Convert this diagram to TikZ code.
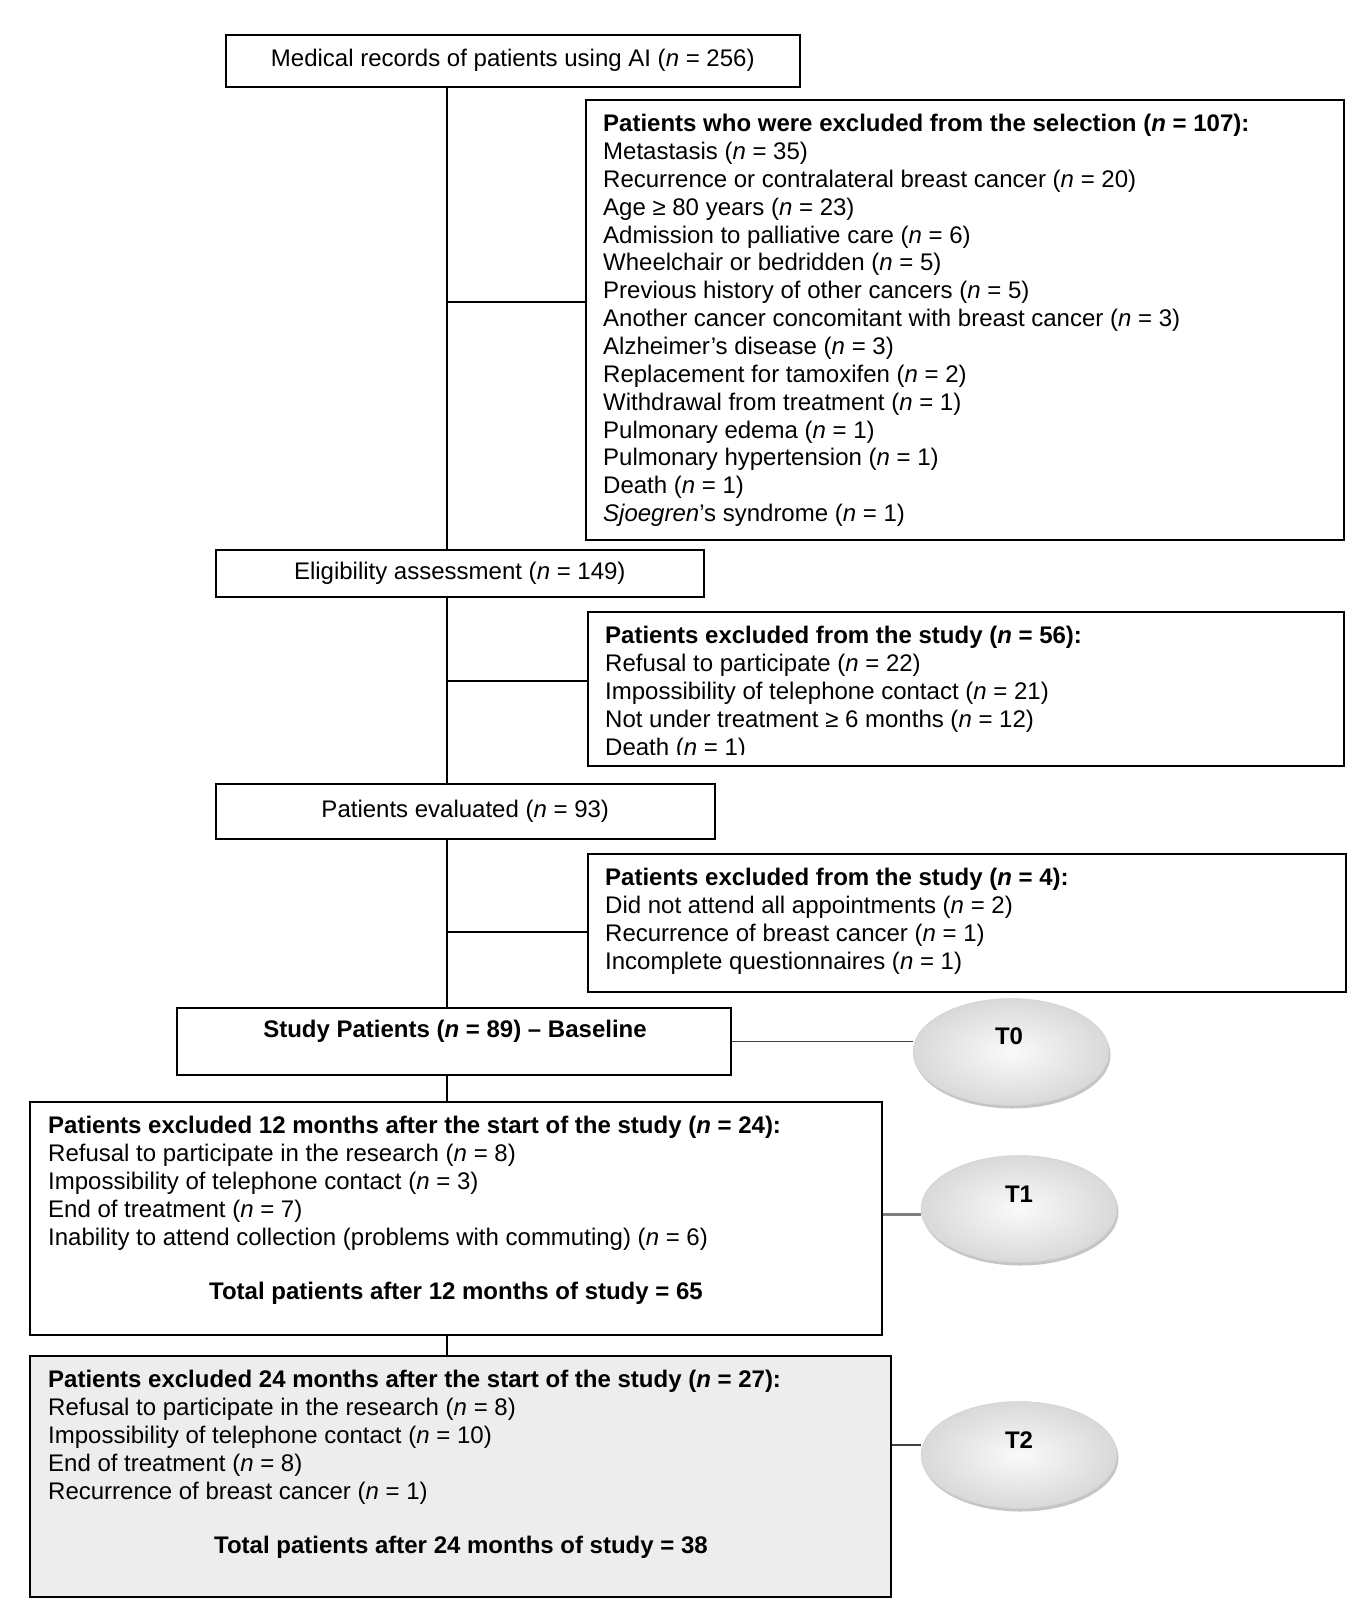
\documentclass[tikz,border=0pt]{standalone}
\usepackage{fontspec}
\setmainfont{Liberation Sans}
\usetikzlibrary{shadows,calc,shapes.geometric}
\newcommand\ncount[1]{(\textit{n} = #1)}
\tikzset{
  box/.style={draw=black, line width=1.5pt, inner sep=0pt, anchor=north west, fill=white},
  txt/.style={inner sep=0pt, anchor=north west, align=left, font=\fontsize{24}{27.86}\selectfont},
  ctxt/.style={inner sep=0pt, font=\fontsize{24}{27.86}\selectfont},
  spine/.style={line width=1.5pt, black},
  tell/.style={ellipse, draw=black!18, line width=0.5pt, inner sep=0pt,
    minimum width=196pt, minimum height=107pt,
    shading=radial, inner color=black!2, outer color=black!15,
    drop shadow={shadow xshift=1.5pt, shadow yshift=-3pt, fill=black!45, opacity=0.5}},
  tlab/.style={inner sep=0pt, font=\fontsize{24}{27.86}\selectfont\bfseries},
  t0conn/.style={line width=1.5pt, black!75},
  tconn/.style={line width=3pt, black!50},
}
\begin{document}
\begin{tikzpicture}[x=1pt, y=-1pt]
\useasboundingbox (0,0) rectangle (1364,1618);
\fill[white] (0,0) rectangle (1364,1618);

% main boxes
\node[box, minimum width=574pt, minimum height=52pt, font=\fontsize{24}{27.86}\selectfont] (b1) at (225,34) {Medical records of patients using AI \ncount{256}};
\node[box, minimum width=758pt, minimum height=440pt] (ex1) at (585,99) {};
\node[box, minimum width=488pt, minimum height=47pt, font=\fontsize{24}{27.86}\selectfont] (elig) at (215,549) {Eligibility assessment \ncount{149}};
\node[box, minimum width=756pt, minimum height=154pt] (ex2) at (587,611) {};
\node[box, minimum width=499pt, minimum height=55pt, font=\fontsize{24}{27.86}\selectfont] (eval) at (215,783) {Patients evaluated \ncount{93}};
\node[box, minimum width=758pt, minimum height=138pt] (ex3) at (587,853) {};
\node[box, minimum width=554pt, minimum height=67pt] (study) at (176,1007) {};
\node[box, minimum width=852pt, minimum height=233pt] (m12) at (29,1101) {};
\node[box, minimum width=861pt, minimum height=241pt, fill=black!7] (m24) at (29,1355) {};

% texts
\node[txt] (ex1t) at (603,114) {\textbf{Patients who were excluded from the selection (\textit{n} = 107):}\\
Metastasis \ncount{35}\\
Recurrence or contralateral breast cancer \ncount{20}\\
Age ≥ 80 years \ncount{23}\\
Admission to palliative care \ncount{6}\\
Wheelchair or bedridden \ncount{5}\\
Previous history of other cancers \ncount{5}\\
Another cancer concomitant with breast cancer \ncount{3}\\
Alzheimer's disease \ncount{3}\\
Replacement for tamoxifen \ncount{2}\\
Withdrawal from treatment \ncount{1}\\
Pulmonary edema \ncount{1}\\
Pulmonary hypertension \ncount{1}\\
Death \ncount{1}\\
\textit{Sjoegren}'s syndrome \ncount{1}};

\begin{scope}
\clip (587,611) rectangle (1343,754);
\node[txt] (ex2t) at (605,626) {\textbf{Patients excluded from the study (\textit{n} = 56):}\\
Refusal to participate \ncount{22}\\
Impossibility of telephone contact \ncount{21}\\
Not under treatment ≥ 6 months \ncount{12}\\
Death \ncount{1}};
\end{scope}

\node[txt] (ex3t) at (605,868) {\textbf{Patients excluded from the study (\textit{n} = 4):}\\
Did not attend all appointments \ncount{2}\\
Recurrence of breast cancer \ncount{1}\\
Incomplete questionnaires \ncount{1}};

\node[ctxt, font=\fontsize{24}{27.86}\selectfont\bfseries] (studyt) at (455,1031) {Study Patients (\textit{n} = 89) -- Baseline};

\node[txt] (m12t) at (48,1116) {\textbf{Patients excluded 12 months after the start of the study (\textit{n} = 24):}\\
Refusal to participate in the research \ncount{8}\\
Impossibility of telephone contact \ncount{3}\\
End of treatment \ncount{7}\\
Inability to attend collection (problems with commuting) \ncount{6}};
\node[ctxt, font=\fontsize{24}{27.86}\selectfont\bfseries] (m12tot) at (456,1293) {Total patients after 12 months of study = 65};

\node[txt] (m24t) at (48,1370) {\textbf{Patients excluded 24 months after the start of the study (\textit{n} = 27):}\\
Refusal to participate in the research \ncount{8}\\
Impossibility of telephone contact \ncount{10}\\
End of treatment \ncount{8}\\
Recurrence of breast cancer \ncount{1}};
\node[ctxt, font=\fontsize{24}{27.86}\selectfont\bfseries] (m24tot) at (461,1547) {Total patients after 24 months of study = 38};

% time point ellipses
\node[tell] (t0) at (1011,1052) {};
\node[tlab] (t0l) at (1009,1036) {T0};
\node[tell] (t1) at (1019,1209) {};
\node[tlab] (t1l) at (1019,1194) {T1};
\node[tell] (t2) at (1019,1455) {};
\node[tlab] (t2l) at (1019,1440) {T2};

% spine
\coordinate (sp) at (447,0);
\coordinate (j1) at (447,302);
\coordinate (j2) at (447,681);
\coordinate (j3) at (447,932);
\coordinate (y1) at (0,1214);
\coordinate (y2) at (0,1445);
\draw[spine] (b1.south -| sp) -- (elig.north -| sp);
\draw[spine] (elig.south -| sp) -- (eval.north -| sp);
\draw[spine] (eval.south -| sp) -- (study.north -| sp);
\draw[spine] (study.south -| sp) -- (m12.north -| sp);
\draw[spine] (m12.south -| sp) -- (m24.north -| sp);
\draw[spine] (j1) -- (j1 -| ex1.west);
\draw[spine] (j2) -- (j2 -| ex2.west);
\draw[spine] (j3) -- (j3 -| ex3.west);

% time connectors
\draw[t0conn] (study.east) -- (study.east -| t0.west);
\draw[tconn] (m12.east |- y1) -- (t1.west |- y1);
\draw[t0conn, line width=2pt] (m24.east |- y2) -- (t2.west |- y2);
\end{tikzpicture}
\end{document}
